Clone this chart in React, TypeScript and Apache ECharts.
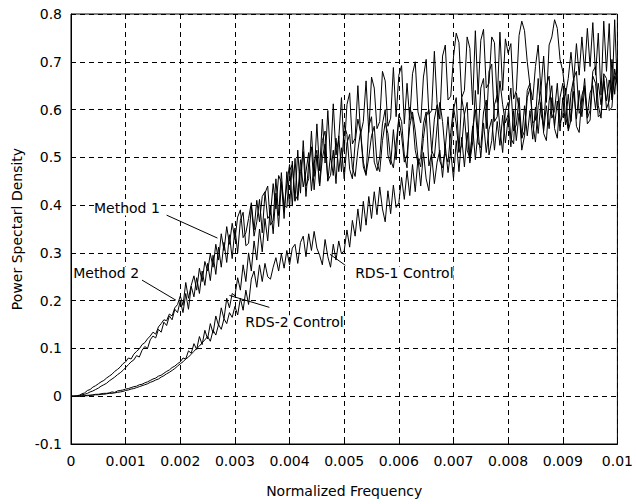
import React, { useEffect, useRef } from "react";
import * as echarts from "echarts";

// Frequency step between samples (normalized frequency)
const FREQ_STEP = 0.00005;

const xTicks = ["0", "0.001", "0.002", "0.003", "0.004", "0.005", "0.006", "0.007", "0.008", "0.009", "0.01"];
const yTicks = ["-0.1", "0", "0.1", "0.2", "0.3", "0.4", "0.5", "0.6", "0.7", "0.8"];

const method1 = [
  0, 0, 0.001, 0.002, 0.005, 0.007, 0.012, 0.014, 0.019, 0.022,
  0.026, 0.030, 0.033, 0.038, 0.042, 0.046, 0.052, 0.056, 0.061, 0.068,
  0.072, 0.080, 0.078, 0.088, 0.094, 0.099, 0.108, 0.112, 0.120, 0.126,
  0.134, 0.130, 0.145, 0.152, 0.160, 0.158, 0.172, 0.168, 0.185, 0.192,
  0.210, 0.190, 0.238, 0.205, 0.232, 0.252, 0.222, 0.268, 0.240, 0.282,
  0.262, 0.298, 0.270, 0.318, 0.285, 0.340, 0.305, 0.355, 0.318, 0.362,
  0.328, 0.375, 0.390, 0.332, 0.342, 0.372, 0.405, 0.348, 0.410, 0.365,
  0.418, 0.428, 0.372, 0.380, 0.445, 0.392, 0.462, 0.448, 0.400, 0.395,
  0.472, 0.485, 0.410, 0.420, 0.495, 0.438, 0.470, 0.510, 0.430, 0.488,
  0.515, 0.440, 0.498, 0.528, 0.450, 0.505, 0.462, 0.540, 0.470, 0.520,
  0.455, 0.530, 0.548, 0.478, 0.460, 0.515, 0.555, 0.490, 0.465, 0.500,
  0.545, 0.565, 0.488, 0.470, 0.535, 0.572, 0.550, 0.495, 0.478, 0.530,
  0.580, 0.545, 0.490, 0.505, 0.565, 0.595, 0.555, 0.498, 0.480, 0.540,
  0.585, 0.600, 0.515, 0.500, 0.565, 0.615, 0.575, 0.508, 0.490, 0.552,
  0.605, 0.570, 0.510, 0.625, 0.588, 0.515, 0.498, 0.560, 0.600, 0.530,
  0.520, 0.595, 0.620, 0.505, 0.535, 0.610, 0.630, 0.560, 0.510, 0.598,
  0.615, 0.540, 0.528, 0.635, 0.602, 0.515, 0.545, 0.625, 0.645, 0.570,
  0.532, 0.608, 0.640, 0.550, 0.535, 0.618, 0.650, 0.560, 0.540, 0.625,
  0.655, 0.585, 0.560, 0.635, 0.665, 0.565, 0.552, 0.630, 0.650, 0.570,
  0.578, 0.670, 0.655, 0.585, 0.590, 0.675, 0.665, 0.598, 0.605, 0.685, 0.650,
];

const method2 = [
  0, 0, 0, 0.001, 0.003, 0.004, 0.006, 0.009, 0.011, 0.014,
  0.017, 0.021, 0.024, 0.027, 0.032, 0.036, 0.040, 0.045, 0.049, 0.054,
  0.060, 0.066, 0.072, 0.076, 0.085, 0.082, 0.096, 0.104, 0.100, 0.118,
  0.126, 0.122, 0.140, 0.134, 0.155, 0.148, 0.168, 0.160, 0.182, 0.175,
  0.200, 0.175, 0.215, 0.182, 0.230, 0.208, 0.248, 0.215, 0.262, 0.232,
  0.278, 0.242, 0.295, 0.255, 0.312, 0.270, 0.322, 0.280, 0.338, 0.288,
  0.352, 0.300, 0.368, 0.385, 0.315, 0.320, 0.398, 0.335, 0.365, 0.412,
  0.342, 0.425, 0.440, 0.358, 0.368, 0.455, 0.378, 0.468, 0.388, 0.445,
  0.485, 0.398, 0.498, 0.410, 0.470, 0.512, 0.418, 0.488, 0.522, 0.432,
  0.505, 0.440, 0.535, 0.555, 0.452, 0.462, 0.515, 0.445, 0.545, 0.470,
  0.568, 0.548, 0.475, 0.455, 0.530, 0.580, 0.552, 0.480, 0.462, 0.565,
  0.585, 0.490, 0.472, 0.500, 0.570, 0.600, 0.505, 0.485, 0.558, 0.495,
  0.590, 0.575, 0.505, 0.478, 0.605, 0.585, 0.515, 0.488, 0.500, 0.570,
  0.595, 0.482, 0.508, 0.580, 0.610, 0.492, 0.478, 0.520, 0.585, 0.505,
  0.600, 0.625, 0.512, 0.525, 0.590, 0.615, 0.492, 0.530, 0.640, 0.545,
  0.645, 0.665, 0.560, 0.680, 0.695, 0.575, 0.585, 0.660, 0.610, 0.572,
  0.590, 0.645, 0.555, 0.568, 0.625, 0.540, 0.555, 0.640, 0.655, 0.572,
  0.578, 0.665, 0.592, 0.565, 0.650, 0.670, 0.582, 0.598, 0.655, 0.572,
  0.588, 0.645, 0.555, 0.578, 0.665, 0.680, 0.592, 0.608, 0.665, 0.582,
  0.598, 0.680, 0.690, 0.608, 0.582, 0.670, 0.602, 0.618, 0.705, 0.632, 0.700,
];

const rds2Control = [
  0, 0, 0, 0, 0.001, 0.001, 0.002, 0.002, 0.003, 0.004,
  0.004, 0.005, 0.006, 0.006, 0.007, 0.009, 0.008, 0.011, 0.012, 0.013,
  0.015, 0.016, 0.018, 0.020, 0.021, 0.024, 0.025, 0.028, 0.030, 0.033,
  0.036, 0.038, 0.042, 0.044, 0.048, 0.052, 0.055, 0.060, 0.063, 0.068,
  0.072, 0.080, 0.078, 0.095, 0.090, 0.110, 0.098, 0.125, 0.108, 0.138,
  0.120, 0.152, 0.132, 0.168, 0.148, 0.185, 0.162, 0.205, 0.185, 0.215,
  0.210, 0.248, 0.222, 0.275, 0.240, 0.300, 0.262, 0.325, 0.285, 0.350,
  0.302, 0.372, 0.325, 0.398, 0.340, 0.425, 0.355, 0.448, 0.372, 0.470,
  0.395, 0.492, 0.408, 0.515, 0.425, 0.535, 0.440, 0.455, 0.555, 0.460,
  0.570, 0.472, 0.580, 0.488, 0.598, 0.495, 0.612, 0.505, 0.540, 0.625,
  0.512, 0.610, 0.635, 0.528, 0.540, 0.650, 0.548, 0.575, 0.660, 0.552,
  0.668, 0.645, 0.560, 0.575, 0.680, 0.660, 0.565, 0.582, 0.688, 0.585,
  0.672, 0.692, 0.570, 0.655, 0.578, 0.675, 0.700, 0.595, 0.572, 0.668,
  0.705, 0.590, 0.598, 0.722, 0.612, 0.580, 0.712, 0.735, 0.620, 0.628,
  0.710, 0.760, 0.740, 0.625, 0.640, 0.752, 0.728, 0.610, 0.765, 0.632,
  0.745, 0.768, 0.645, 0.655, 0.752, 0.740, 0.615, 0.762, 0.640, 0.748,
  0.718, 0.738, 0.622, 0.640, 0.755, 0.785, 0.765, 0.700, 0.650, 0.620,
  0.690, 0.735, 0.640, 0.712, 0.615, 0.735, 0.752, 0.788, 0.770, 0.705,
  0.680, 0.630, 0.665, 0.720, 0.660, 0.738, 0.672, 0.752, 0.680, 0.770,
  0.690, 0.782, 0.672, 0.760, 0.630, 0.785, 0.680, 0.780, 0.620, 0.788, 0.640,
];

const rds1Control = [
  0, 0, 0, 0, 0, 0.001, 0.001, 0.002, 0.002, 0.003,
  0.003, 0.004, 0.004, 0.005, 0.006, 0.006, 0.007, 0.008, 0.009, 0.010,
  0.012, 0.013, 0.015, 0.016, 0.018, 0.020, 0.022, 0.024, 0.026, 0.029,
  0.031, 0.034, 0.036, 0.040, 0.043, 0.047, 0.050, 0.054, 0.058, 0.063,
  0.068, 0.072, 0.078, 0.082, 0.088, 0.094, 0.100, 0.105, 0.112, 0.118,
  0.125, 0.115, 0.138, 0.128, 0.150, 0.140, 0.162, 0.152, 0.175, 0.165,
  0.188, 0.170, 0.205, 0.180, 0.222, 0.192, 0.245, 0.262, 0.228, 0.275,
  0.240, 0.278, 0.250, 0.245, 0.270, 0.290, 0.262, 0.298, 0.268, 0.305,
  0.275, 0.310, 0.318, 0.278, 0.322, 0.335, 0.292, 0.340, 0.305, 0.345,
  0.310, 0.295, 0.275, 0.328, 0.292, 0.270, 0.318, 0.285, 0.325, 0.298,
  0.305, 0.348, 0.312, 0.368, 0.335, 0.392, 0.345, 0.408, 0.358, 0.418,
  0.372, 0.428, 0.380, 0.438, 0.392, 0.365, 0.430, 0.382, 0.442, 0.395,
  0.405, 0.458, 0.412, 0.472, 0.420, 0.485, 0.428, 0.498, 0.440, 0.510,
  0.455, 0.430, 0.505, 0.445, 0.490, 0.515, 0.458, 0.525, 0.468, 0.512,
  0.455, 0.535, 0.470, 0.542, 0.480, 0.552, 0.488, 0.565, 0.495, 0.555,
  0.500, 0.572, 0.510, 0.558, 0.580, 0.515, 0.575, 0.525, 0.588, 0.530,
  0.582, 0.522, 0.598, 0.535, 0.592, 0.540, 0.608, 0.545, 0.598, 0.538,
  0.605, 0.550, 0.615, 0.555, 0.608, 0.560, 0.625, 0.565, 0.618, 0.555,
  0.625, 0.568, 0.632, 0.575, 0.638, 0.580, 0.640, 0.585, 0.645, 0.590,
  0.635, 0.650, 0.602, 0.655, 0.610, 0.660, 0.618, 0.662, 0.625, 0.670, 0.655,
];

// Annotations: label text, label anchor (data coords), arrow start and arrow tip (data coords)
const annotationLabels = ["Method 1", "Method 2", "RDS-2 Control", "RDS-1 Control"];
const annotationTextPos = [[0.00042, 0.393], [0.00004, 0.257], [0.00319, 0.155], [0.0052, 0.257]];
const annotationArrowFrom = [[0.00175, 0.379], [0.0013, 0.243], [0.00363, 0.186], [0.00502, 0.274]];
const annotationArrowTo = [[0.00268, 0.331], [0.00192, 0.201], [0.0029, 0.211], [0.00474, 0.297]];

const FONT = "DejaVu Sans";

function toPairs(values: number[]) {
  return values.map((v, i) => [i * FREQ_STEP, v]);
}

export default function App() {
  const ref = useRef<HTMLDivElement>(null);

  useEffect(() => {
    if (!ref.current) return;
    const chart = echarts.init(ref.current, undefined, { renderer: "svg" });

    const lineSeries = (name: string, values: number[]) => ({
      name,
      type: "line",
      data: toPairs(values),
      showSymbol: false,
      symbol: "none",
      lineStyle: { color: "#000", width: 1 },
      z: 3,
    });

    const fmtX = (v: number) => {
      const idx = Math.round(v / 0.001);
      return xTicks[idx] ?? "";
    };
    const fmtY = (v: number) => {
      const idx = Math.round((v + 0.1) / 0.1);
      return yTicks[idx] ?? "";
    };

    chart.setOption({
      animation: false,
      backgroundColor: "#fff",
      textStyle: { fontFamily: FONT },
      grid: {
        left: 71,
        right: 17,
        top: 14,
        bottom: 60,
        show: true,
        borderColor: "#000",
        borderWidth: 1,
        backgroundColor: "transparent",
      },
      xAxis: {
        type: "value",
        min: 0,
        max: 0.01,
        interval: 0.001,
        name: "Normalized Frequency",
        nameLocation: "middle",
        nameGap: 40,
        nameTextStyle: { color: "#000", fontSize: 14, fontFamily: FONT },
        axisLine: { show: true, onZero: false, lineStyle: { color: "#000", width: 1 } },
        axisTick: { show: true, inside: true, length: 3, lineStyle: { color: "#000" } },
        axisLabel: { color: "#000", fontSize: 14, fontFamily: FONT, margin: 10, formatter: fmtX },
        splitLine: { show: true, lineStyle: { color: "#000", type: [5, 4], width: 1 } },
      },
      yAxis: {
        type: "value",
        min: -0.1,
        max: 0.8,
        interval: 0.1,
        name: "Power Spectarl Density",
        nameLocation: "middle",
        nameGap: 46,
        nameTextStyle: { color: "#000", fontSize: 14, fontFamily: FONT },
        axisLine: { show: true, lineStyle: { color: "#000", width: 1 } },
        axisTick: { show: true, inside: true, length: 3, lineStyle: { color: "#000" } },
        axisLabel: { color: "#000", fontSize: 14, fontFamily: FONT, margin: 9, formatter: fmtY },
        splitLine: { show: true, lineStyle: { color: "#000", type: [5, 4], width: 1 } },
      },
      series: [
        lineSeries("Method 1", method1),
        lineSeries("Method 2", method2),
        lineSeries("RDS-2 Control", rds2Control),
        {
          ...lineSeries("RDS-1 Control", rds1Control),
          markLine: {
            silent: true,
            symbol: ["none", "arrow"],
            symbolSize: [0, 7],
            label: { show: false },
            lineStyle: { color: "#000", width: 1, type: "solid" },
            data: annotationArrowFrom.map((from, i) => [
              { coord: from },
              { coord: annotationArrowTo[i] },
            ]),
          },
        },
      ],
    });

    const graphics = annotationLabels.map((text, i) => {
      const p = chart.convertToPixel({ gridIndex: 0 }, annotationTextPos[i]) as number[];
      return {
        type: "text",
        x: p[0],
        y: p[1],
        z: 10,
        style: {
          text,
          fill: "#000",
          font: `14px "${FONT}"`,
          textAlign: "left",
          textVerticalAlign: "middle",
          backgroundColor: "#fff",
        },
      };
    });
    chart.setOption({ graphic: graphics });

    return () => chart.dispose();
  }, []);

  return (
    <div
      ref={ref}
      style={{ position: "absolute", left: 0, top: 0, width: 636, height: 504 }}
    />
  );
}
